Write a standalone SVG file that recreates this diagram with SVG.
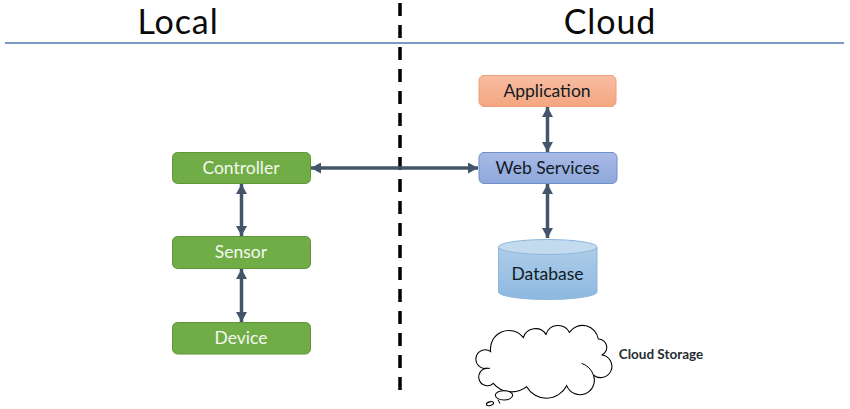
<svg xmlns="http://www.w3.org/2000/svg" width="850" height="409" viewBox="0 0 850 409">
<style>
text{font-family:"Lato","Open Sans","Liberation Sans",sans-serif;text-anchor:middle}
.title{font-size:34px;letter-spacing:.9px;fill:#0a0a0a}
.lbl{font-size:17.5px;fill:#111a24}
.wht{font-size:17.5px;fill:#f4f8f0}
.green{fill:#70ad47;stroke:#5e9639;stroke-width:1}
.arrow{stroke:#44546a;stroke-width:3.5;fill:none;marker-start:url(#h);marker-end:url(#h)}
.cl{fill:#fff;stroke:#000;stroke-width:3.2}
</style>
<defs>
<marker id="h" markerUnits="userSpaceOnUse" markerWidth="11" markerHeight="11" refX="10" refY="5.500" orient="auto-start-reverse"><path d="M0 0L10 5.500L0 11z" fill="#44546a"/></marker>
<linearGradient id="o" x1="0" y1="0" x2="0" y2="1"><stop offset="0" stop-color="#f8bda3"/><stop offset="1" stop-color="#f4a680"/></linearGradient>
<linearGradient id="b" x1="0" y1="0" x2="0" y2="1"><stop offset="0" stop-color="#a9bae6"/><stop offset="1" stop-color="#8ea7db"/></linearGradient>
<linearGradient id="d" x1="0" y1="0" x2="0" y2="1"><stop offset="0" stop-color="#aecde9"/><stop offset="1" stop-color="#8db8e0"/></linearGradient>
</defs>
<rect width="850" height="409" fill="#fff"/>
<g id="divider">
<line x1="5" y1="43" x2="844" y2="43" stroke="#4f79b3" stroke-width="1.5"/>
<line x1="400" y1="3" x2="400" y2="398" stroke="#000" stroke-width="3.500" stroke-dasharray="13 9"/>
</g>
<text class="title" x="178" y="34">Local</text>
<text class="title" x="610" y="34">Cloud</text>
<g id="connectors">
<line class="arrow" x1="547.500" y1="107" x2="547.500" y2="152"/>
<line class="arrow" x1="547.500" y1="184" x2="547.500" y2="238"/>
<line class="arrow" x1="311" y1="168" x2="478" y2="168"/>
<line class="arrow" x1="241.500" y1="184" x2="241.500" y2="236"/>
<line class="arrow" x1="241.500" y1="269" x2="241.500" y2="322"/>
</g>
<g id="application"><rect x="479" y="75.500" width="137" height="31" rx="5" fill="url(#o)" stroke="#ee9e78"/><text class="lbl" x="547" y="96.500">Application</text></g>
<g id="web-services"><rect x="479" y="152.500" width="138" height="31" rx="5" fill="url(#b)" stroke="#6f8fc9"/><text class="lbl" x="547.500" y="173.500">Web Services</text></g>
<g id="controller"><rect class="green" x="172.500" y="152.500" width="138" height="31" rx="5"/><text class="wht" x="241" y="173.500">Controller</text></g>
<g id="sensor"><rect class="green" x="172.500" y="236.500" width="138" height="32" rx="5"/><text class="wht" x="241" y="257.500">Sensor</text></g>
<g id="device"><rect class="green" x="172.500" y="322.500" width="138" height="31.500" rx="5"/><text class="wht" x="241" y="343.500">Device</text></g>
<g id="database">
<path d="M498.500 247V292C498.500 296 520 299.500 547.500 299.500S597 296 597 292V247z" fill="url(#d)" stroke="#8fb6dc"/>
<ellipse cx="547.700" cy="247" rx="49.300" ry="7.500" fill="#c3daef" stroke="#8fb6dc"/>
<text class="lbl" x="547.500" y="279.500">Database</text>
</g>
<g id="cloud-storage">
<g transform="translate(460 315) scale(.3333)">
<path class="cl" d="M92 110A55 55 0 0 1 190 68A38 38 0 0 1 258 58A38 38 0 0 1 328 52A48 48 0 0 1 415 72A25 25 0 0 1 425 120A34 34 0 1 1 400 180A42 42 0 0 1 320 212A68 68 0 0 1 200 215A72 72 0 0 1 100 205A26 26 0 1 1 82 160A28 28 0 1 1 92 110z"/>
<path d="M365 145Q392 155 400 180M75 160H90" fill="none" stroke="#000" stroke-width="3"/>
<ellipse class="cl" cx="132" cy="241" rx="26" ry="14"/>
<ellipse class="cl" cx="90" cy="266" rx="11" ry="5.500" transform="rotate(-15 90 266)"/>
<path d="M114 254L120 266" fill="none" stroke="#000" stroke-width="3"/>
</g>
<text x="661" y="359" font-size="13.500" font-weight="700" fill="#262c33">Cloud Storage</text>
</g>
</svg>
